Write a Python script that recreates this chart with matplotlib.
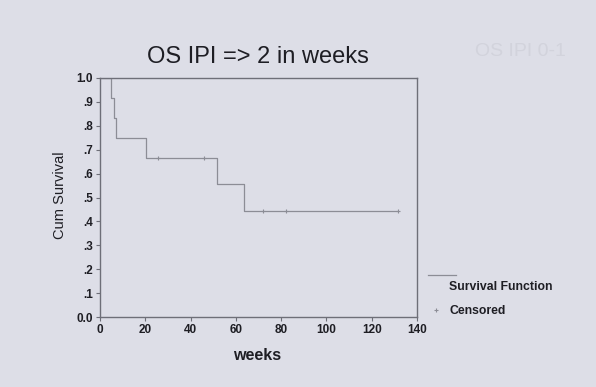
import matplotlib
matplotlib.use("Agg")
import matplotlib.pyplot as plt
from matplotlib.lines import Line2D

# Data
event_times = [0, 4.7, 6.2, 7.1, 20.3, 51.7, 63.6]
surv_values = [1.0, 0.917, 0.833, 0.750, 0.667, 0.556, 0.444]
end_time = 131.6
censor_times = [25.7, 45.9, 72.0, 82.0, 131.6]
censor_values = [0.667, 0.667, 0.444, 0.444, 0.444]
x_ticks = [0, 20, 40, 60, 80, 100, 120, 140]
y_ticks = [0.0, 0.1, 0.2, 0.3, 0.4, 0.5, 0.6, 0.7, 0.8, 0.9, 1.0]
y_tick_labels = ["0.0", ".1", ".2", ".3", ".4", ".5", ".6", ".7", ".8", ".9", "1.0"]

plt.rcParams['font.family'] = ['Liberation Sans', 'DejaVu Sans']
bg = '#dddee7'
line_c = '#8c8d96'
spine_c = '#6e6f78'
text_c = '#1e1e24'

fig = plt.figure(figsize=(5.96, 3.87), dpi=100, facecolor=bg)
ax = fig.add_axes([100/596, 1-317/387, 317/596, 239/387], facecolor=bg)

xs = event_times + [end_time]
ys = surv_values + [surv_values[-1]]
ax.step(xs, ys, where='post', color=line_c, lw=0.9)
ax.plot(censor_times, censor_values, linestyle='none', marker='+', markersize=3,
        color=line_c, mew=0.8)

ax.set_xlim(0, 140)
ax.set_ylim(0, 1.0)
ax.set_xticks(x_ticks)
ax.set_yticks(y_ticks)
ax.set_yticklabels(y_tick_labels)
for s in ax.spines.values():
    s.set_color(spine_c)
    s.set_linewidth(1.0)
ax.tick_params(axis='both', colors=spine_c, length=3, width=0.8, direction='out',
               labelcolor=text_c, labelsize=8.5, pad=2)
for lab in ax.get_xticklabels() + ax.get_yticklabels():
    lab.set_fontweight('bold')

fig.text(258/596, 1-57/387, "OS IPI => 2 in weeks", ha='center', va='center',
         fontsize=17, color=text_c)
fig.text(257/596, 1-356/387, "weeks", ha='center', va='center',
         fontsize=11.5, fontweight='bold', color=text_c)
fig.text(60/596, 1-195/387, "Cum Survival", ha='center', va='center', rotation=90,
         fontsize=10.5, color=text_c)

# legend
fig.add_artist(Line2D([428/596, 456/596], [1-275/387, 1-275/387], color=line_c, lw=0.9))
fig.add_artist(Line2D([436/596], [1-310/387], marker='+', markersize=3, color=line_c,
                      linestyle='none', mew=0.8))
fig.text(449/596, 1-287/387, "Survival Function", ha='left', va='center',
         fontsize=8.8, fontweight='bold', color=text_c)
fig.text(449/596, 1-311/387, "Censored", ha='left', va='center',
         fontsize=8.8, fontweight='bold', color=text_c)

# faint bleed-through text from facing page
fig.text(520/596, 1-52/387, "OS IPI 0-1", ha='center', va='center',
         fontsize=14, color='#d2d3dc')

fig.savefig("out.png", dpi=100, facecolor=bg)
